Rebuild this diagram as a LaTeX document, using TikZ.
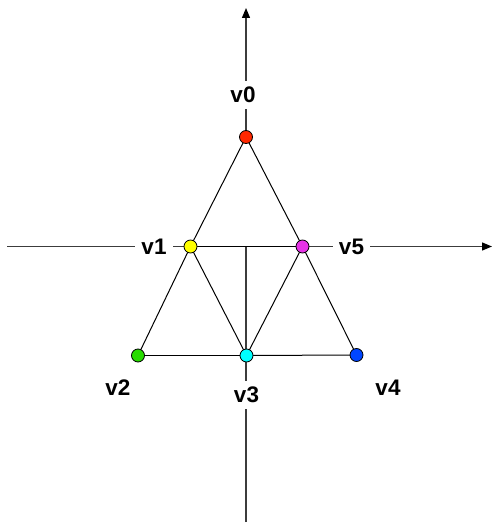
\documentclass[tikz,border=0pt]{standalone}
\usepackage{fontspec}
\setmainfont{Liberation Sans}
\usetikzlibrary{arrows.meta}
\definecolor{axisgray}{RGB}{60,60,60}
\definecolor{vred}{RGB}{255,40,0}
\definecolor{vyellow}{RGB}{255,255,0}
\definecolor{vgreen}{RGB}{40,220,0}
\definecolor{vcyan}{RGB}{0,255,255}
\definecolor{vblue}{RGB}{0,70,255}
\definecolor{vmagenta}{RGB}{230,50,230}
\begin{document}
\begin{tikzpicture}[x=1pt,y=-1pt,
  axis/.style={draw=axisgray,line width=1.3pt,-{Triangle[length=10pt,width=8pt,color=black]}},
  edge/.style={draw=black,line width=1pt},
  vert/.style={circle,draw=black,line width=0.8pt,minimum size=13pt,inner sep=0pt},
  lab/.style={fill=white,inner sep=6pt,font=\fontsize{22.5}{26}\selectfont\bfseries}]
\useasboundingbox (0,0) rectangle (492,526);
% axes
\coordinate (ybot) at (246,522);
\coordinate (ytop) at (246,8);
\coordinate (xleft) at (7,246.5);
\coordinate (xright) at (492,246.5);
\draw[axis] (ybot) -- (ytop);
\draw[axis] (xleft) -- (xright);
% vertex positions
\coordinate (p0) at (246,137);
\coordinate (p1) at (190.5,246.5);
\coordinate (p5) at (302.5,246.5);
\coordinate (p2) at (138,355.5);
\coordinate (p3) at (246.5,355.5);
\coordinate (p4) at (356.5,355);
% white upper triangle
\fill[white] (p0) -- (p1) -- (p5) -- cycle;
% edges
\draw[edge] (p0) -- (p1);
\draw[edge] (p0) -- (p5);
\draw[edge] (p1) -- (p5);
\draw[edge] (p1) -- (p2);
\draw[edge] (p1) -- (p3);
\draw[edge] (p5) -- (p3);
\draw[edge] (p5) -- (p4);
\draw[edge] (p2) -- (p3);
\draw[edge] (p3) -- (p4);
% vertices
\node[vert,fill=vred] (n0) at (p0) {};
\node[vert,fill=vyellow] (n1) at (p1) {};
\node[vert,fill=vmagenta] (n5) at (p5) {};
\node[vert,fill=vgreen] (n2) at (p2) {};
\node[vert,fill=vcyan] (n3) at (p3) {};
\node[vert,fill=vblue] (n4) at (p4) {};
% labels
\node[lab] (l0) at (243,95) {v0};
\node[lab] (l1) at (154,247) {v1};
\node[lab] (l5) at (351.5,247) {v5};
\node[lab] (l2) at (118,388) {v2};
\node[lab] (l3) at (246.5,395) {v3};
\node[lab] (l4) at (388,388) {v4};
\end{tikzpicture}
\end{document}
